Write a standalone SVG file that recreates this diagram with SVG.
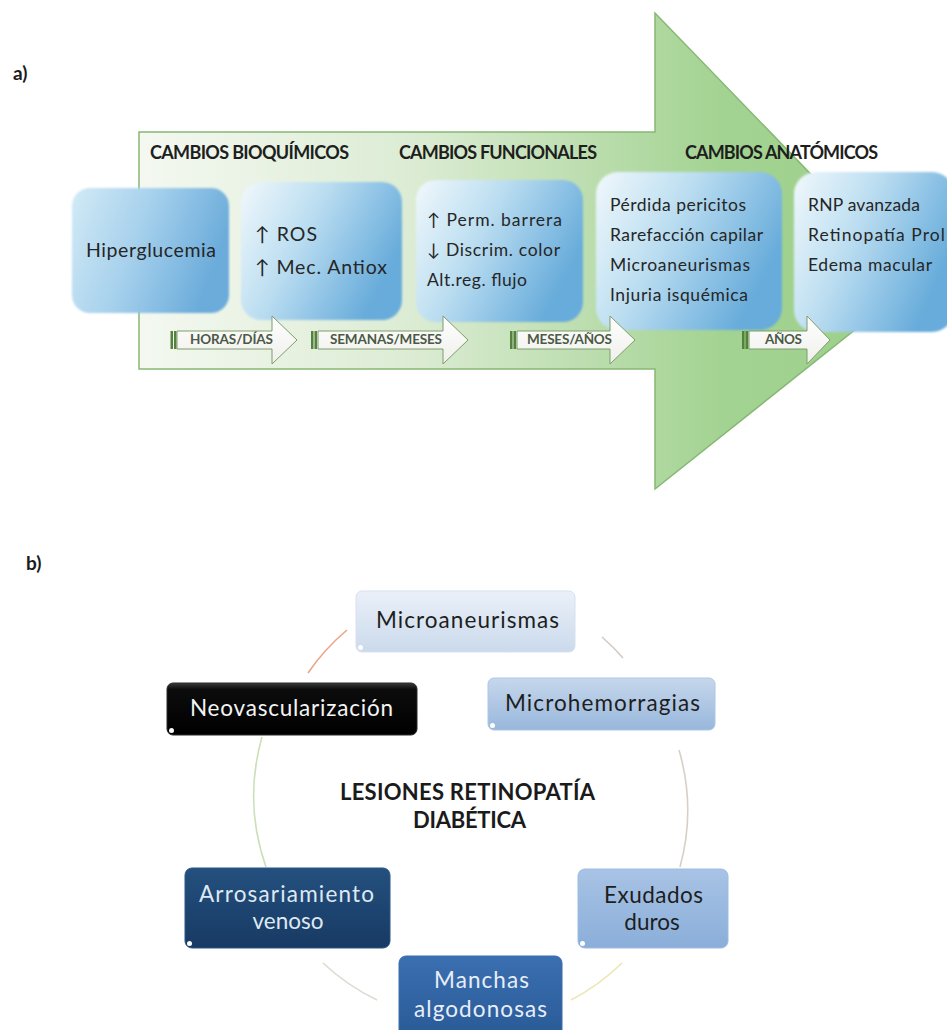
<svg xmlns="http://www.w3.org/2000/svg" width="947" height="1030" viewBox="0 0 947 1030">
<defs>
  <linearGradient id="gArrow" x1="139" y1="0" x2="915" y2="0" gradientUnits="userSpaceOnUse">
    <stop offset="0" stop-color="#f4f8f1"/>
    <stop offset="0.35" stop-color="#dcecd4"/>
    <stop offset="0.6" stop-color="#b9dcab"/>
    <stop offset="0.75" stop-color="#a3d392"/>
    <stop offset="1" stop-color="#9ccf8b"/>
  </linearGradient>
  <linearGradient id="gBox" x1="0" y1="0" x2="1" y2="0.45">
    <stop offset="0" stop-color="#f1f8fc"/>
    <stop offset="0.45" stop-color="#bcdef1"/>
    <stop offset="1" stop-color="#68acdb"/>
  </linearGradient>
  <linearGradient id="gBoxH" x1="0" y1="0" x2="1" y2="0.3">
    <stop offset="0" stop-color="#d2eaf6"/>
    <stop offset="0.5" stop-color="#a5d0ec"/>
    <stop offset="1" stop-color="#6cacdb"/>
  </linearGradient>
  <linearGradient id="gWhite" x1="0" y1="0" x2="0" y2="1">
    <stop offset="0" stop-color="#ffffff"/>
    <stop offset="1" stop-color="#eef0ea"/>
  </linearGradient>
  <linearGradient id="gMa" x1="0" y1="0" x2="0" y2="1">
    <stop offset="0" stop-color="#eaf0f8"/>
    <stop offset="1" stop-color="#cbdaec"/>
  </linearGradient>
  <linearGradient id="gMh" x1="0" y1="0" x2="0" y2="1">
    <stop offset="0" stop-color="#c6d7ec"/>
    <stop offset="1" stop-color="#98b7dc"/>
  </linearGradient>
  <linearGradient id="gEx" x1="0" y1="0" x2="0" y2="1">
    <stop offset="0" stop-color="#a8c3e5"/>
    <stop offset="1" stop-color="#8aaed9"/>
  </linearGradient>
  <linearGradient id="gMan" x1="0" y1="0" x2="0" y2="1">
    <stop offset="0" stop-color="#3a6fb1"/>
    <stop offset="1" stop-color="#2a5a97"/>
  </linearGradient>
  <linearGradient id="gArr" x1="0" y1="0" x2="0" y2="1">
    <stop offset="0" stop-color="#24507f"/>
    <stop offset="1" stop-color="#173a63"/>
  </linearGradient>
  <linearGradient id="gNeo" x1="0" y1="0" x2="0" y2="1">
    <stop offset="0" stop-color="#3a3a3a"/>
    <stop offset="0.12" stop-color="#0c0c0c"/>
    <stop offset="1" stop-color="#000000"/>
  </linearGradient>
  <filter id="soft" x="-5%" y="-5%" width="110%" height="110%">
    <feGaussianBlur stdDeviation="1.3"/>
  </filter>
</defs>
<style>
  text{font-family:Lato,"Liberation Sans",sans-serif}
  .hdr{font-weight:bold;font-size:18px;fill:#1e1e1e}
  .bt{font-size:17.5px;fill:#262626}
  .bt2{font-size:19.5px;fill:#262626}
  .at{font-weight:bold;font-size:13.5px;fill:#4b5945}
  .tag{font-weight:bold;font-size:19px;fill:#1b1b1b}
  .nt{font-size:22.5px}
  .ttl{font-weight:bold;font-size:22px;fill:#1b1b1b}
  .box{filter:url(#soft)}
  .tarrow{fill:url(#gWhite);stroke:#7f9c6c;stroke-width:1}
  .stripe{fill:#55813f}
  .arc{fill:none;stroke-width:1.6}
  .dot{fill:#ffffff}
</style>
<rect width="947" height="1030" fill="#ffffff"/>

<!-- part a -->
<text class="tag" x="13" y="80">a)</text>
<path id="big-arrow" d="M139,132 H655 V13 L915,282 L655,489 V369 H139 Z" fill="url(#gArrow)" stroke="#86b874" stroke-width="1.5"/>

<text class="hdr" x="150" y="159" textLength="199">CAMBIOS BIOQUÍMICOS</text>
<text class="hdr" x="399" y="159" textLength="198">CAMBIOS FUNCIONALES</text>
<text class="hdr" x="685" y="159" textLength="193">CAMBIOS ANATÓMICOS</text>

<g id="node-hiperglucemia">
  <rect class="box" x="72" y="188" width="157" height="125" rx="18" fill="url(#gBoxH)"/>
  <text class="bt2" x="86" y="257" textLength="130">Hiperglucemia</text>
</g>
<g id="node-ros">
  <rect class="box" x="241" y="182" width="161" height="138" rx="20" fill="url(#gBox)"/>
  <text class="bt2" x="255" y="241" textLength="62">↑ ROS</text>
  <text class="bt2" x="255" y="274" textLength="132">↑ Mec. Antiox</text>
</g>
<g id="node-funcionales">
  <rect class="box" x="416" y="180" width="167" height="142" rx="20" fill="url(#gBox)"/>
  <text class="bt" x="427" y="226" textLength="135">↑ Perm. barrera</text>
  <text class="bt" x="427" y="256" textLength="133">↓ Discrim. color</text>
  <text class="bt" x="427" y="286" textLength="100">Alt.reg. flujo</text>
</g>
<g id="node-anatomicos">
  <rect class="box" x="596" y="172" width="186" height="158" rx="22" fill="url(#gBox)"/>
  <text class="bt" x="610" y="211" textLength="136">Pérdida pericitos</text>
  <text class="bt" x="610" y="241" textLength="153">Rarefacción capilar</text>
  <text class="bt" x="610" y="271" textLength="140">Microaneurismas</text>
  <text class="bt" x="610" y="301" textLength="138">Injuria isquémica</text>
</g>
<g id="node-rnp">
  <rect class="box" x="794" y="172" width="160" height="160" rx="22" fill="url(#gBox)"/>
  <text class="bt" x="808" y="211" textLength="112">RNP avanzada</text>
  <text class="bt" x="808" y="241" textLength="137">Retinopatía Prol</text>
  <text class="bt" x="808" y="271" textLength="124">Edema macular</text>
</g>

<g id="time-arrows">
  <g id="arrow-horas">
    <rect class="stripe" x="170.5" y="331" width="2.5" height="18"/>
    <rect class="stripe" x="174" y="331" width="2.5" height="18"/>
    <path class="tarrow" d="M177,331 H272 V316 L297,340 L272,364 V349 H177 Z"/>
    <text class="at" x="190" y="344" textLength="83">HORAS/DÍAS</text>
  </g>
  <g id="arrow-semanas">
    <rect class="stripe" x="311" y="331" width="2.5" height="18"/>
    <rect class="stripe" x="314.5" y="331" width="2.5" height="18"/>
    <path class="tarrow" d="M318,331 H443 V316 L468,340 L443,364 V349 H318 Z"/>
    <text class="at" x="330" y="344" textLength="112">SEMANAS/MESES</text>
  </g>
  <g id="arrow-meses">
    <rect class="stripe" x="510" y="331" width="2.5" height="18"/>
    <rect class="stripe" x="513.5" y="331" width="2.5" height="18"/>
    <path class="tarrow" d="M517,331 H610 V316 L635,340 L610,364 V349 H517 Z"/>
    <text class="at" x="527" y="344" textLength="85">MESES/AÑOS</text>
  </g>
  <g id="arrow-anos">
    <rect class="stripe" x="742" y="331" width="2.5" height="18"/>
    <rect class="stripe" x="745.5" y="331" width="2.5" height="18"/>
    <path class="tarrow" d="M749,331 H807 V316 L830,340 L807,364 V349 H749 Z"/>
    <text class="at" x="765" y="344" textLength="37">AÑOS</text>
  </g>
</g>

<!-- part b -->
<text class="tag" x="26" y="570">b)</text>

<g id="connectors">
  <path class="arc" d="M308,673 A215,215 0 0 1 347,630" stroke="#eaa585"/>
  <path class="arc" d="M602,637 A215,215 0 0 1 623,658" stroke="#d3cbbd"/>
  <path class="arc" d="M679,750 A215,215 0 0 1 680,867" stroke="#d6d0c6"/>
  <path class="arc" d="M622,963 A215,215 0 0 1 571,1000" stroke="#ebe7b4"/>
  <path class="arc" d="M377,1000 A215,215 0 0 1 323,963" stroke="#dedad0"/>
  <path class="arc" d="M266,867 A215,215 0 0 1 262,737" stroke="#c9e0b8"/>
</g>

<text class="ttl" x="340" y="800" textLength="255">LESIONES RETINOPATÍA</text>
<text class="ttl" x="413" y="828" textLength="113">DIABÉTICA</text>

<g id="node-microaneurismas">
  <rect x="356" y="591" width="219" height="61" rx="6" fill="url(#gMa)" stroke="#d6e1ef" stroke-width="1"/>
  <circle class="dot" cx="360.5" cy="647.5" r="2.5"/>
  <text class="nt" x="376" y="628" textLength="183" fill="#1e1e1e">Microaneurismas</text>
</g>
<g id="node-microhemorragias">
  <rect x="488" y="678" width="227" height="52" rx="6" fill="url(#gMh)" stroke="#aec6e4" stroke-width="1"/>
  <circle class="dot" cx="492.5" cy="725.5" r="2.5"/>
  <text class="nt" x="505" y="711" textLength="195" fill="#1e1e1e">Microhemorragias</text>
</g>
<g id="node-exudados">
  <rect x="578" y="869" width="150" height="79" rx="7" fill="url(#gEx)" stroke="#9dbbe2" stroke-width="1"/>
  <circle class="dot" cx="582.5" cy="943.5" r="2.5"/>
  <text class="nt" x="604" y="903" textLength="99" fill="#1e1e1e">Exudados</text>
  <text class="nt" x="652" y="930" text-anchor="middle" fill="#1e1e1e">duros</text>
</g>
<g id="node-manchas">
  <rect x="399" y="956" width="163" height="82" rx="7" fill="url(#gMan)" stroke="#3b6fae" stroke-width="1"/>
  <text class="nt" x="434" y="988" textLength="95" fill="#e8eef8">Manchas</text>
  <text class="nt" x="414" y="1017" textLength="133" fill="#e8eef8">algodonosas</text>
</g>
<g id="node-arrosariamiento">
  <rect x="185" y="868" width="205" height="80" rx="7" fill="url(#gArr)" stroke="#2b5686" stroke-width="1"/>
  <circle class="dot" cx="189.5" cy="943.5" r="2.5"/>
  <text class="nt" x="199" y="902" textLength="175" fill="#dfe8f3">Arrosariamiento</text>
  <text class="nt" x="288" y="929" text-anchor="middle" fill="#dfe8f3">venoso</text>
</g>
<g id="node-neovascularizacion">
  <rect x="167" y="683" width="250" height="52" rx="6" fill="url(#gNeo)" stroke="#2a2a2a" stroke-width="1"/>
  <circle class="dot" cx="171.5" cy="730.5" r="2.5"/>
  <text class="nt" x="190" y="716" textLength="203" fill="#f4f4f4">Neovascularización</text>
</g>
</svg>
